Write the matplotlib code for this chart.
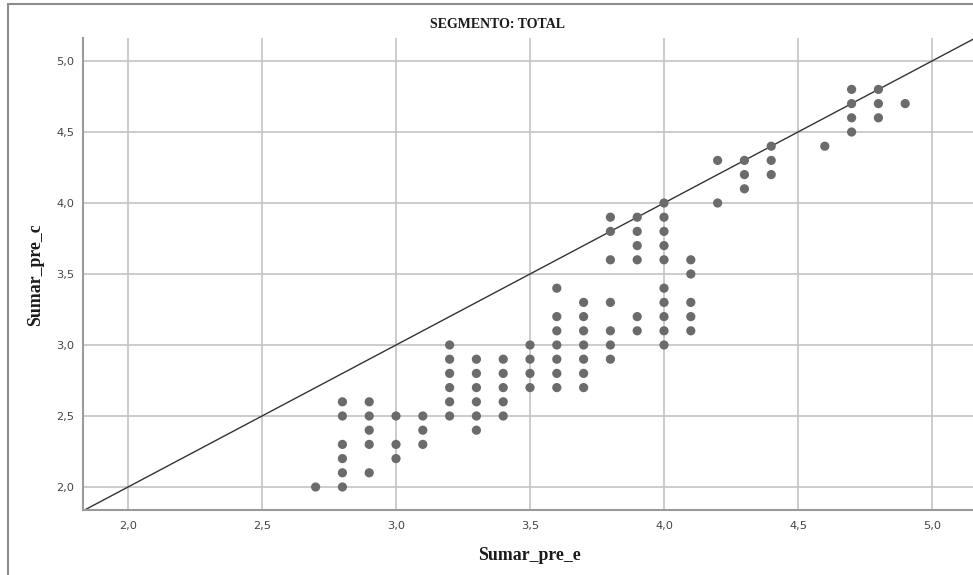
import matplotlib
matplotlib.use("Agg")
import matplotlib.pyplot as plt
from matplotlib.patches import Rectangle

# Data: for each x value, the list of y values observed
x_values = [2.7, 2.8, 2.9, 3.0, 3.1, 3.2, 3.3, 3.4, 3.5, 3.6, 3.7, 3.8, 3.9,
            4.0, 4.1, 4.2, 4.3, 4.4, 4.6, 4.7, 4.8, 4.9]
y_columns = [
    [2.0],
    [2.0, 2.1, 2.2, 2.3, 2.5, 2.6],
    [2.1, 2.3, 2.4, 2.5, 2.6],
    [2.2, 2.3, 2.5],
    [2.3, 2.4, 2.5],
    [2.5, 2.6, 2.7, 2.8, 2.9, 3.0],
    [2.4, 2.5, 2.6, 2.7, 2.8, 2.9],
    [2.5, 2.6, 2.7, 2.8, 2.9],
    [2.7, 2.8, 2.9, 3.0],
    [2.7, 2.8, 2.9, 3.0, 3.1, 3.2, 3.4],
    [2.7, 2.8, 2.9, 3.0, 3.1, 3.2, 3.3],
    [2.9, 3.0, 3.1, 3.3, 3.6, 3.8, 3.9],
    [3.1, 3.2, 3.6, 3.7, 3.8, 3.9],
    [3.0, 3.1, 3.2, 3.3, 3.4, 3.6, 3.7, 3.8, 3.9, 4.0],
    [3.1, 3.2, 3.3, 3.5, 3.6],
    [4.0, 4.3],
    [4.1, 4.2, 4.3],
    [4.2, 4.3, 4.4],
    [4.4],
    [4.5, 4.6, 4.7, 4.8],
    [4.6, 4.7, 4.8],
    [4.7],
]
ticks = [2.0, 2.5, 3.0, 3.5, 4.0, 4.5, 5.0]
tick_labels = ["2,0", "2,5", "3,0", "3,5", "4,0", "4,5", "5,0"]
ref_line = [1.0, 6.0]  # identity reference line y = x

xs = [x for x, col in zip(x_values, y_columns) for _ in col]
ys = [y for col in y_columns for y in col]

W, H = 973, 575
fig = plt.figure(figsize=(W / 100, H / 100), dpi=100)
fig.patch.set_facecolor("white")

# outer frame
fig.patches.append(Rectangle((8 / W, -0.1), 1.2, 1 - 4 / H + 0.1,
                             transform=fig.transFigure, fill=False,
                             edgecolor="#8c8c8c", linewidth=1.5))

left, right, top, bottom = 83, 973, 38, 510
ax = fig.add_axes([left / W, 1 - bottom / H, (right - left) / W, (bottom - top) / H])

ax.set_xlim(1.832, 5.153)
ax.set_ylim(1.838, 5.162)

ax.set_xticks(ticks)
ax.set_xticklabels(tick_labels)
ax.set_yticks(ticks)
ax.set_yticklabels(tick_labels)
ax.tick_params(axis="both", length=0, labelsize=8.2, labelcolor="#444444")
ax.tick_params(axis="x", pad=8)
ax.tick_params(axis="y", pad=6)

ax.grid(True, color="#c4c4c8", linewidth=1.2)
ax.set_axisbelow(True)

for s in ["top", "right"]:
    ax.spines[s].set_visible(False)
for s in ["left", "bottom"]:
    ax.spines[s].set_color("#9a9a9e")
    ax.spines[s].set_linewidth(1.5)

ax.plot(ref_line, ref_line, color="#333333", linewidth=1.0, zorder=2)
ax.scatter(xs, ys, s=44, color="#6b6b6d", edgecolors="none", zorder=3)

fig.text(497 / W, 1 - 25 / H, "SEGMENTO: TOTAL", ha="center", va="center",
         fontsize=10, fontweight="bold", family="Liberation Serif", color="#1a1a1a")
fig.text(529 / W, 1 - 555 / H, "Sumar_pre_e", ha="center", va="center",
         fontsize=12.8, fontweight="bold", family="Liberation Serif", color="#1a1a1a")
fig.text(36 / W, 1 - 275 / H, "Sumar_pre_c", ha="center", va="center",
         rotation=90, fontsize=12.8, fontweight="bold", family="Liberation Serif",
         color="#1a1a1a")

fig.savefig("out.png", dpi=100)
